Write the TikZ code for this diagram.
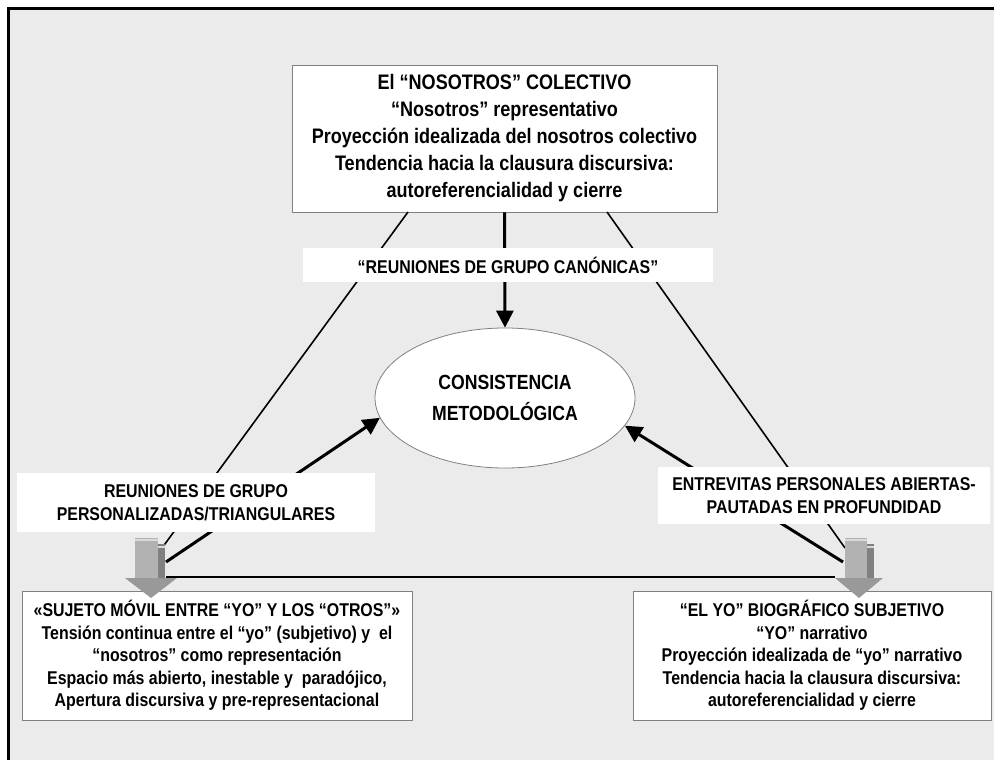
\documentclass[tikz,border=0pt]{standalone}
\usepackage{fontspec}
\setmainfont{Liberation Sans}[FakeStretch=0.86]
\usetikzlibrary{shapes.geometric, arrows.meta}

\begin{document}
\begin{tikzpicture}[x=1pt, y=-1pt, font=\bfseries]
        % Setup the style for the boxes and arrows
        \tikzset{box style/.style={draw=black!50,
                                   fill=white,
                                   line width=0.8pt,
                                   align=center,
                                   inner sep=0pt,
                                   font=\fontsize{18.5}{22.6}\selectfont\bfseries}}
        \tikzset{label style/.style={fill=white,
                                     align=center,
                                     inner sep=0pt,
                                     font=\fontsize{18.5}{22.5}\selectfont\bfseries}}
        \tikzset{thin line/.style={line width=1.6pt}}
        \tikzset{thick arrow/.style={line width=3pt,
                                     -{Triangle[length=17pt, width=17pt]}}}
        \tikzset{shaft style/.style={fill=black!30}}
        \tikzset{strip style/.style={fill=black!50}}
        \tikzset{head style/.style={fill=black!40}}

        % Background and frame
        \useasboundingbox (0,0) rectangle (994,760);
        \fill[white] (0,0) rectangle (994,760);
        \fill[black!8] (8,9) rectangle (994,760);
        \draw[line width=3pt] (8,760) -- (8,9) -- (994,9);

        % Draw the main nodes
        \node[box style, minimum width=425pt, minimum height=147pt,
              font=\fontsize{21}{27}\selectfont\bfseries] at (504.5,138.5) (colectivo)
            {El “NOSOTROS” COLECTIVO\\
             “Nosotros” representativo\\
             Proyección idealizada del nosotros colectivo\\
             Tendencia hacia la clausura discursiva:\\
             autoreferencialidad y cierre};
        \node[ellipse, draw=black!50, fill=white, line width=0.8pt,
              minimum width=260pt, minimum height=140pt, align=center,
              font=\fontsize{20.5}{31}\selectfont\bfseries] at (505,398) (consistencia)
            {CONSISTENCIA\\METODOLÓGICA};

        % Corners of the triangle
        \coordinate (ltop) at (408,212);
        \coordinate (rtop) at (607,212);
        \coordinate (lcorner) at (162,548);
        \coordinate (rcorner) at (845,548);
        \coordinate (lbase) at (166,577);
        \coordinate (rbase) at (835,577);
        \coordinate (lstart) at (166,562);
        \coordinate (rstart) at (843,562);

        % Connect the nodes with lines and arrows
        \draw[thin line] (ltop) -- (lcorner);
        \draw[thin line] (rtop) -- (rcorner);
        \draw[line width=2.4pt] (lbase) -- (rbase);
        \draw[thick arrow] (colectivo.south) -- (consistencia.north);
        \draw[thick arrow] (lstart) -- (consistencia.189);
        \draw[thick arrow] (rstart) -- (consistencia.347);

        % Labels over the connectors
        \node[label style, minimum width=410pt, minimum height=34pt] at (508,265) (canonicas)
            {“REUNIONES DE GRUPO CANÓNICAS”};
        \node[label style, minimum width=358pt, minimum height=59pt] at (196,502.5) (personalizadas)
            {REUNIONES DE GRUPO\\PERSONALIZADAS/TRIANGULARES};
        \node[label style, minimum width=332pt, minimum height=57pt] at (824,495.5) (entrevistas)
            {ENTREVITAS PERSONALES ABIERTAS-\\PAUTADAS EN PROFUNDIDAD};

        % Grey block arrows
        \fill[shaft style] (135,538) rectangle (158,580);
        \fill[strip style] (158,544) rectangle (165,580);
        \fill[black!15] (135,539) rectangle (158,541);
        \fill[black!15] (158,546) rectangle (165,548);
        \fill[shaft style] (845,538) rectangle (867,580);
        \fill[strip style] (867,544) rectangle (874,580);
        \fill[black!15] (845,539) rectangle (867,541);
        \fill[black!15] (867,546) rectangle (874,548);

        % Bottom boxes
        \node[box style, minimum width=390pt, minimum height=129pt] at (217,655.5) (movil)
            {«SUJETO MÓVIL ENTRE “YO” Y LOS “OTROS”»\\
             Tensión continua entre el “yo” (subjetivo) y\ \ el\\
             “nosotros” como representación\\
             Espacio más abierto, inestable y\ \ paradójico,\\
             Apertura discursiva y pre-representacional};
        \node[box style, minimum width=358pt, minimum height=129pt] at (812,655.5) (biografico)
            {“EL YO” BIOGRÁFICO SUBJETIVO\\
             “YO” narrativo\\
             Proyección idealizada de “yo” narrativo\\
             Tendencia hacia la clausura discursiva:\\
             autoreferencialidad y cierre};

        % Heads of the grey arrows
        \fill[head style] (125,578) -- (177,578) -- (151,598) -- cycle;
        \fill[head style] (835,578) -- (883,578) -- (859,598) -- cycle;
\end{tikzpicture}
\end{document}
